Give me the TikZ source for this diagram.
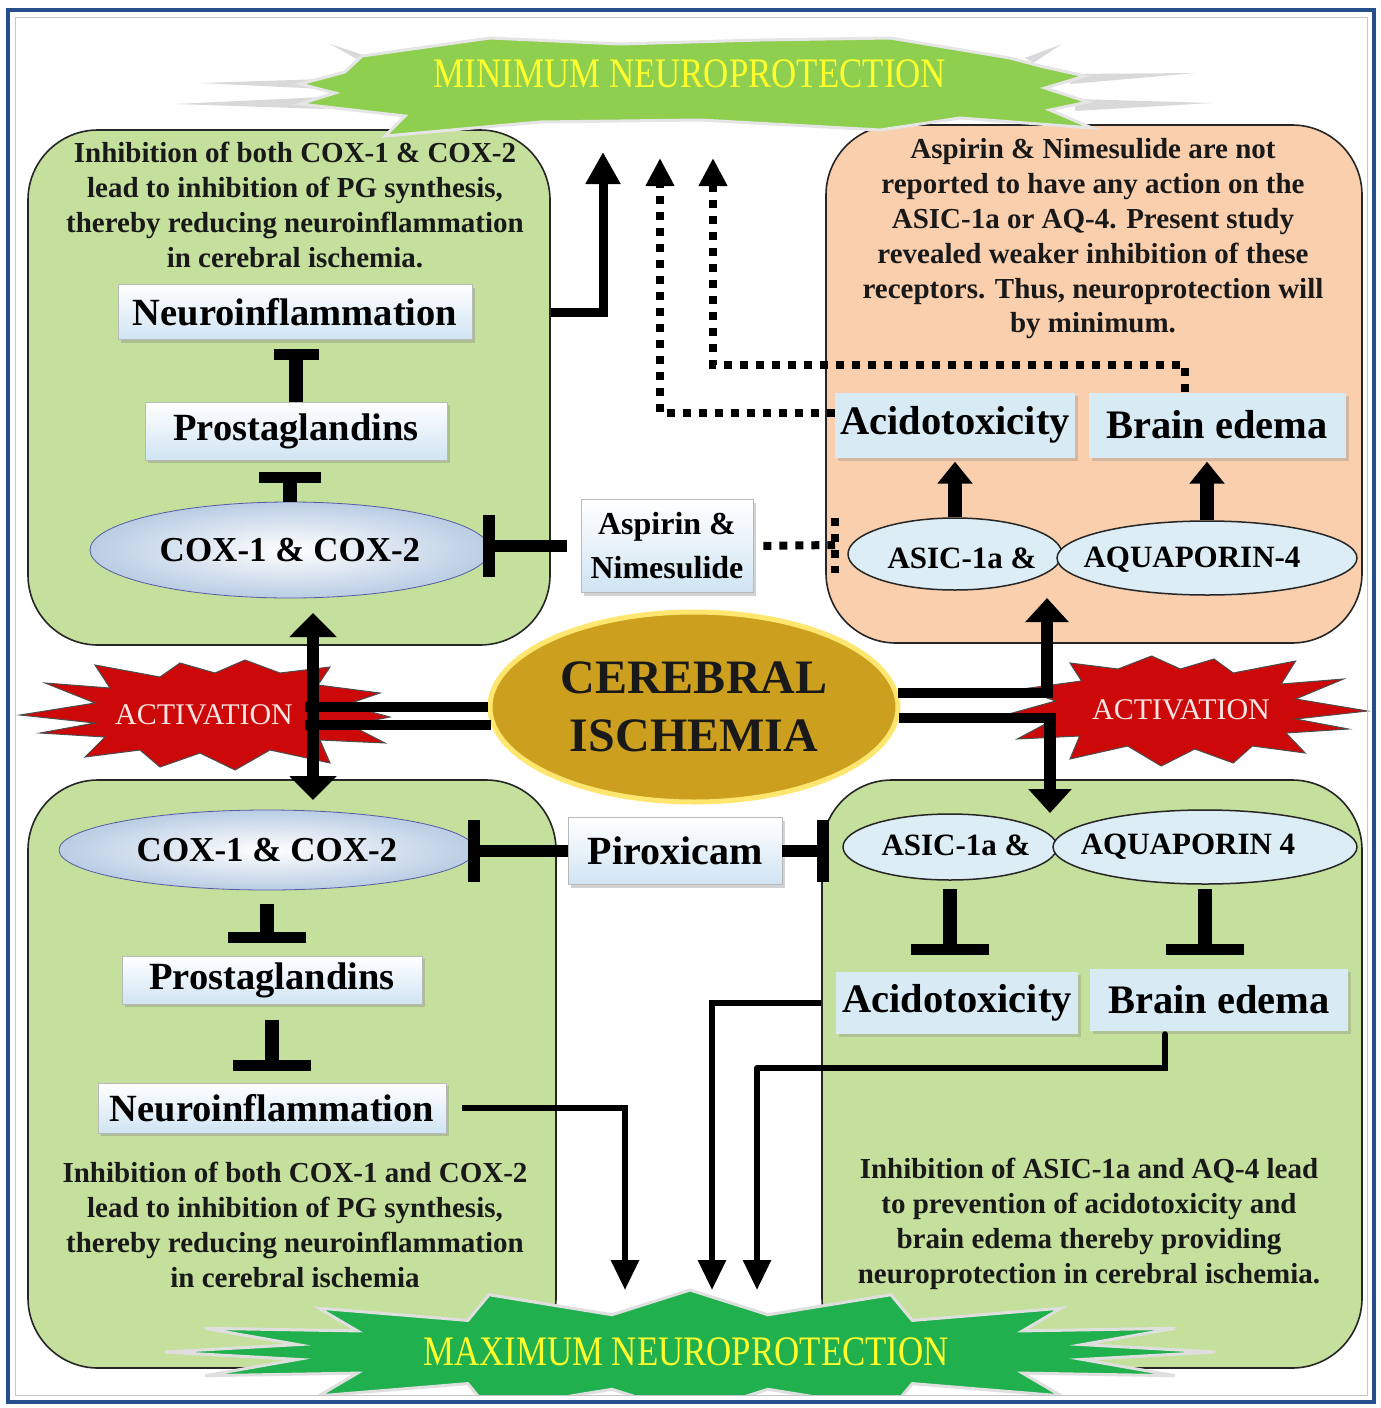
\documentclass[tikz,border=0pt]{standalone}
\usepackage{fontspec}
\setmainfont{Liberation Serif}
\newfontfamily\condfont[FakeStretch=0.83]{Liberation Serif}
\usetikzlibrary{arrows.meta,shapes.geometric,shadows,calc}
\definecolor{frameblue}{RGB}{38,78,140}
\definecolor{gbox}{RGB}{196,224,156}
\definecolor{peach}{RGB}{250,207,174}
\definecolor{lblue}{RGB}{208,228,243}
\definecolor{fblue}{RGB}{216,234,243}
\definecolor{coxblue}{RGB}{186,205,228}
\definecolor{asicblue}{RGB}{220,237,245}
\definecolor{cigold}{RGB}{204,160,30}
\definecolor{ciglow}{RGB}{255,230,110}
\definecolor{actred}{RGB}{205,8,8}
\definecolor{acttxt}{RGB}{255,228,228}
\definecolor{bantop}{RGB}{142,207,80}
\definecolor{banbot}{RGB}{32,176,78}
\definecolor{banyel}{RGB}{255,255,45}
\newcommand\myfs[2]{\fontsize{#1pt}{#2pt}\selectfont}
\newcommand\actpath{(-185,0) -- (-110,-12) -- (-160,-32) -- (-95,-27) -- (-110,-50) -- (-45,-38) -- (-25,-52) -- (10,-42) -- (40,-55) -- (75,-42) -- (125,-48) -- (113,-30) -- (175,-22) -- (140,-10) -- (185,2) -- (145,10) -- (180,28) -- (115,25) -- (125,48) -- (65,35) -- (30,55) -- (-5,38) -- (-45,52) -- (-65,35) -- (-120,42) -- (-100,22) -- (-165,18) -- (-110,8) -- cycle}
\begin{document}
\begin{tikzpicture}[x=1pt,y=-1pt,
  bigbox/.style={rectangle, rounded corners=70pt, draw=black!85, line width=1.6pt, inner sep=0pt},
  lbox/.style={rectangle, top color=white, bottom color=lblue, draw=gray!55, line width=0.6pt, inner sep=0pt, font=\myfs{38.5}{40}\bfseries, drop shadow={opacity=0.35, shadow xshift=3pt, shadow yshift=-3pt}},
  fbox/.style={rectangle, fill=fblue, inner sep=0pt, font=\myfs{40.5}{42}\bfseries, drop shadow={opacity=0.3, shadow xshift=3pt, shadow yshift=-3pt}},
  coxell/.style={ellipse, inner sep=0pt, inner color=white, outer color=coxblue, draw=gray!70!blue, line width=0.8pt, font=\myfs{35}{38}\bfseries},
  asicell/.style={ellipse, inner sep=0pt, fill=asicblue, draw=black!85, line width=1.5pt},
  asictext/.style={font=\myfs{31}{33}\bfseries},
  para/.style={align=center, font=\myfs{29}{34.8}\bfseries, text=black!90},
  acttext/.style={font=\myfs{30}{32}, text=acttxt},
  actstar/.style={fill=actred, draw=black!70, line width=1pt},
  bantext/.style={font=\condfont\myfs{42}{44}, text=banyel},
  streak/.style={fill=gray!30},
  arr/.style={line width=6pt, -{Triangle[width=27pt,length=30pt]}},
  bigarr/.style={line width=9pt, -{Triangle[width=33pt,length=32pt]}},
  uparr/.style={line width=14pt, -{Triangle[width=34pt,length=22pt]}},
  dblarr/.style={line width=12pt, {Triangle[width=46pt,length=24pt]}-{Triangle[width=46pt,length=24pt]}},
  vline/.style={line width=12pt, -{Triangle[width=42pt,length=24pt]}},
  hl/.style={line width=10pt},
  dotl/.style={line width=8pt, dash pattern=on 8pt off 8pt},
  dotarr/.style={dotl, -{Triangle[width=27pt,length=28pt]}},
  inhib/.style={line width=12pt, -{Bar[width=62pt,line width=12pt]}},
  tbar/.style={line width=14pt, -{Bar[width=#1,line width=11pt]}}
]
\useasboundingbox (0,0) rectangle (1381,1408);
\fill[white] (0,0) rectangle (1381,1408);

% big boxes
\node[bigbox, fill=gbox, minimum width=522pt, minimum height=515pt] (tlbox) at (289,387.5) {};
\node[bigbox, fill=peach, minimum width=536pt, minimum height=518pt] (trbox) at (1094,384) {};
\node[bigbox, fill=gbox, minimum width=528pt, minimum height=588pt] (blbox) at (292,1074) {};
\node[bigbox, fill=gbox, minimum width=540pt, minimum height=588pt] (brbox) at (1092,1074) {};

% top banner: streaks and body
\fill[streak] (175,104) -- (325,97) -- (325,109) -- cycle;
\fill[streak] (200,83) -- (325,79) -- (325,89) -- cycle;
\fill[streak] (330,44) -- (372,58) -- (364,63) -- cycle;
\fill[streak] (1212,103) -- (1075,99) -- (1075,111) -- cycle;
\fill[streak] (1196,73) -- (1070,74) -- (1070,84) -- cycle;
\fill[streak] (1062,44) -- (1025,58) -- (1033,63) -- cycle;
\filldraw[fill=bantop, draw=gray!20, line width=3pt] (300,104) -- (335,93) -- (300,84) -- (345,72) -- (362,56) -- (490,38) -- (620,44) -- (760,40) -- (890,38) -- (1010,58) -- (1040,66) -- (1085,76) -- (1045,88) -- (1088,102) -- (1050,110) -- (1092,128) -- (960,118) -- (880,130) -- (700,120) -- (540,122) -- (385,136) -- (405,116) -- cycle;
\node[bantext] (mintext) at (690,74) {MINIMUM NEUROPROTECTION};

% bottom banner
\begin{scope}
\clip (15,17) rectangle (1367,1395);
\filldraw[fill=banbot, draw=gray!25, line width=3pt] plot[samples at={0,...,31}] ({690+ifthenelse(mod(\x,2)==0,525,400)*cos(\x*11.25)},{1352+ifthenelse(mod(\x,2)==0,62,38)*sin(\x*11.25)}) -- cycle;
\end{scope}
\node[bantext] (maxtext) at (686,1352) {MAXIMUM NEUROPROTECTION};

% activation stars
\begin{scope}[shift={(205,715)}]
\filldraw[actstar] \actpath;
\end{scope}
\begin{scope}[shift={(1190,711)}, xscale=-0.96]
\filldraw[actstar] \actpath;
\end{scope}
\node[acttext] (actL) at (204,715) {ACTIVATION};
\node[acttext] (actR) at (1181,710) {ACTIVATION};

% paragraphs
\node[para] (tltext) at (295,205) {Inhibition of both COX-1 \& COX-2\\lead to inhibition of PG synthesis,\\thereby reducing neuroinflammation\\in cerebral ischemia.};
\node[para] (trtext) at (1093,239) {Aspirin \& Nimesulide are not\\reported to have any action on the\\ASIC-1a or AQ-4. Present study\\revealed weaker inhibition of these\\receptors. Thus, neuroprotection will\\by minimum.};
\node[para] (bltext) at (295,1225) {Inhibition of both COX-1 and COX-2\\lead to inhibition of PG synthesis,\\thereby reducing neuroinflammation\\in cerebral ischemia};
\node[para] (brtext) at (1089,1224) {Inhibition of ASIC-1a and AQ-4 lead\\to prevention of acidotoxicity and\\brain edema thereby providing\\neuroprotection in cerebral ischemia.};

% top-left nodes
\node[lbox, minimum width=354pt, minimum height=55pt] (tlneuro) at (295,312) {Neuroinflammation};
\node[lbox, minimum width=302pt, minimum height=58pt] (tlprost) at (296,431) {Prostaglandins};
\node[coxell, minimum width=400pt, minimum height=96pt] (tlcox) at (290,550) {COX-1 \& COX-2};
\node[lbox, minimum width=172pt, minimum height=93pt, align=center, font=\myfs{32}{44}\bfseries] (asp) at (667,546) {Aspirin \&\\Nimesulide};

% top-right nodes
\node[fbox, minimum width=240pt, minimum height=65pt] (tracido) at (955,425) {Acidotoxicity};
\node[fbox, minimum width=257pt, minimum height=65pt] (trbrain) at (1217,425) {Brain edema};
\node[asicell, minimum width=214pt, minimum height=72pt] (trasic) at (955,554) {};
\node[asicell, minimum width=300pt, minimum height=74pt] (traqp) at (1207,558) {};
\node[asictext] (trasict) at (962,558) {ASIC-1a \&};
\node[asictext] (traqpt) at (1192,560) {AQUAPORIN-4};

% centre
\node[ellipse, fill=cigold, draw=ciglow, line width=5pt, minimum width=408pt, minimum height=190pt, inner sep=0pt, align=center, font=\myfs{48}{58}\bfseries, text=black!90] (ci) at (694,707) {CEREBRAL\\ISCHEMIA};

% bottom-left nodes
\node[coxell, minimum width=416pt, minimum height=80pt] (blcox) at (267,850) {COX-1 \& COX-2};
\node[lbox, minimum width=300pt, minimum height=48pt] (blprost) at (272,980) {Prostaglandins};
\node[lbox, minimum width=348pt, minimum height=50pt] (blneuro) at (272,1108) {Neuroinflammation};
\node[lbox, minimum width=214pt, minimum height=67pt, font=\myfs{40}{42}\bfseries] (pirox) at (675,851) {Piroxicam};

% bottom-right nodes
\node[asicell, minimum width=214pt, minimum height=66pt] (brasic) at (950,847) {};
\node[asicell, minimum width=304pt, minimum height=74pt] (braqp) at (1205,847) {};
\node[asictext] (brasict) at (956,845) {ASIC-1a \&};
\node[asictext] (braqpt) at (1188,847) {AQUAPORIN 4};
\node[fbox, minimum width=242pt, minimum height=62pt] (bracido) at (957,1003) {Acidotoxicity};
\node[fbox, minimum width=258pt, minimum height=62pt] (brbrain) at (1219,1000) {Brain edema};

% coordinates for free ends
\coordinate (lx) at (305,0);
\coordinate (lt) at (313,613);
\coordinate (lb) at (313,800);
\coordinate (rx1) at (1053,0);
\coordinate (rx2) at (1056,0);
\coordinate (rt) at (1047,598);
\coordinate (rb) at (1050,813);
\coordinate (t0) at (603,152);
\coordinate (t1) at (660,158);
\coordinate (c2) at (713,365);
\coordinate (t2) at (713,158);
\coordinate (db) at (835,545);
\coordinate (m0) at (625,1290);
\coordinate (m1) at (712,1290);
\coordinate (b2) at (757,1068);
\coordinate (m2) at (757,1290);

% lines from cerebral ischemia
\draw[hl] (ci.180) -- (ci.180 -| lx);
\draw[hl] (ci.185) -- (ci.185 -| lx);
\draw[dblarr] (lt) -- (lb);
\draw[hl] (ci.4) -- (ci.4 -| rx1);
\draw[hl] (ci.357) -- (ci.357 -| rx2);
\draw[vline] (ci.4 -| rt) -- (rt);
\draw[vline] (ci.357 -| rb) -- (rb);

% top-left connectors
\draw[tbar=45pt, shorten >=9pt] (tlprost.north) -- (tlprost.north |- tlneuro.south);
\draw[tbar=62pt, shorten >=12pt] (tlcox.north) -- (tlcox.north |- tlprost.south);
\draw[inhib, shorten <=14pt, shorten >=-7pt] (asp.west) -- (asp.west -| tlcox.east);
\draw[bigarr] (tlbox.east |- tlneuro.east) -| (t0);

% dotted connectors
\draw[dotarr] ([yshift=12pt]tracido.west) -| (t1);
\draw[dotarr] ([xshift=-32pt]trbrain.north) |- (c2) -- (t2);
\draw[dotl, shorten <=10pt] (asp.east) -- (db);
\draw[dotl] ($(db)+(0,-27)$) -- ($(db)+(0,28)$);

% top-right arrows
\draw[uparr, shorten >=4pt] (trasic.north) -- (trasic.north |- tracido.south);
\draw[uparr, shorten >=4pt] (traqp.north) -- (traqp.north |- trbrain.south);

% bottom-left connectors
\draw[tbar=78pt, shorten <=14pt, shorten >=13pt] (blcox.south) -- (blcox.south |- blprost.north);
\draw[tbar=78pt, shorten <=16pt, shorten >=12pt] (blprost.south) -- (blprost.south |- blneuro.north);
\draw[inhib, shorten >=-7pt] (pirox.west) -- (pirox.west -| blcox.east);
\draw[inhib, shorten >=13pt] (pirox.east) -- (pirox.east -| brasic.west);
\draw[arr, shorten <=16pt] (blneuro.east) -| (m0);

% bottom-right connectors
\draw[tbar=78pt, shorten <=8pt, shorten >=17pt] (brasic.south) -- (brasic.south |- bracido.north);
\draw[tbar=78pt, shorten <=4pt, shorten >=14pt] (braqp.south) -- (braqp.south |- brbrain.north);
\draw[arr] (brbox.west |- bracido.center) -| (m1);
\draw[line width=6pt, line cap=round, shorten <=3pt] ([xshift=-54pt]brbrain.south) |- (b2);
\draw[arr] (b2) -- (m2);

% frame
\draw[gray!45, line width=1pt] (15,17) rectangle (1367,1395);
\draw[frameblue, line width=4pt] (8,10) rectangle (1374,1402);
\end{tikzpicture}
\end{document}
